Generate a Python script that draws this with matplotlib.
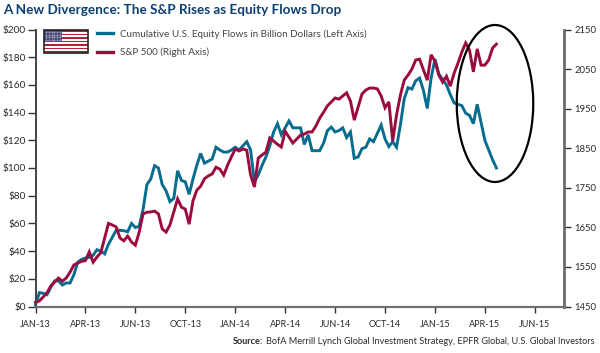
"""
Recreates the U.S. equity flows vs S&P 500 divergence chart.

    python3 plot.py
    -> out.png
"""

import matplotlib
matplotlib.use("Agg")
import matplotlib.pyplot as plt
from matplotlib.lines import Line2D
from matplotlib.patches import Ellipse, Rectangle

# Weekly readings.
FLOWS = [
    1, 10, 9.5, 8.5, 14, 18.5, 18.5, 15.5, 17, 17,
    23, 32, 34, 35, 35.5, 37, 41, 40, 38, 45,
    50, 55, 55, 54.7, 54, 60, 57, 58, 70, 88,
    92, 101.7, 100, 88, 83.5, 75.7, 78, 98, 91, 90,
    81, 92, 102, 110.5, 103.5, 105, 106.5, 115, 113, 111.5,
    111.5, 113, 115, 113, 116, 119, 113, 90, 95, 102,
    108, 116, 126, 132, 124, 129, 134, 129, 129, 129,
    117, 124, 112.5, 112.5, 112.5, 118, 127, 129.5, 126, 127,
    129, 122, 126, 107, 108, 114, 115, 121, 119, 125,
    131, 121, 115.5, 119, 115, 131, 150, 158, 157, 163,
    165, 156, 143, 165, 178.6, 168, 164, 160, 153, 147,
    146, 145, 139.6, 138, 132, 146, 133, 120, 113, 106,
    100,
]
SP500 = [
    1461, 1464, 1474, 1485, 1502, 1512, 1522, 1514, 1522, 1537,
    1555, 1560, 1564, 1566, 1588, 1562, 1575, 1586, 1623, 1660,
    1656, 1651, 1623, 1616, 1628, 1613, 1605, 1638, 1684, 1688,
    1689, 1691, 1684, 1646, 1638, 1656, 1689, 1722, 1701, 1696,
    1658, 1717, 1744, 1754, 1773, 1780, 1785, 1802, 1797, 1782,
    1807, 1828, 1848, 1843, 1848, 1845, 1782, 1752, 1825, 1833,
    1840, 1876, 1868, 1860, 1853, 1893, 1878, 1863, 1873, 1883,
    1886, 1891, 1891, 1906, 1926, 1941, 1957, 1967, 1977, 1974,
    1982, 1990, 1969, 1921, 1954, 1987, 1997, 2002, 2002, 2000,
    1982, 1952, 1967, 1868, 1934, 1984, 2022, 2035, 2050, 2073,
    2075, 2048, 2022, 2086, 2070, 2035, 2017, 2032, 2007, 2040,
    2065, 2093, 2116, 2098, 2043, 2101, 2060, 2060, 2073, 2103,
    2113,
]
X_LABELS = ["JAN-13", "APR-13", "JUN-13", "OCT-13", "JAN-14", "APR-14",
            "JUN-14", "OCT-14", "JAN-15", "APR-15", "JUN-15"]
LEFT_TICKS = [0, 20, 40, 60, 80, 100, 120, 140, 160, 180, 200]
RIGHT_TICKS = [1450, 1550, 1650, 1750, 1850, 1950, 2050, 2150]

BLUE = "#066d8e"
RED = "#9b0b40"
NAVY = "#0d3f70"
GREY = "#707070"
TEXT = "#2b2b2b"
W, H = 600, 353

plt.rcParams["font.family"] = ["Lato", "DejaVu Sans"]


def px_box(x0, y0, x1, y1):
    """Figure-fraction rectangle from pixel edges, y counted from the top."""
    return [x0 / W, 1 - y1 / H, (x1 - x0) / W, (y1 - y0) / H]


def draw_flag(fig):
    ax = fig.add_axes(px_box(44, 30, 88, 53))
    ax.set_xlim(0, 44)
    ax.set_ylim(13, 0)
    ax.axis("off")
    for i in range(13):
        ax.add_patch(Rectangle((0, i), 44, 1, color="#b22234" if i % 2 == 0 else "white", lw=0))
    ax.add_patch(Rectangle((0, 0), 18, 7, color="#3c3b6e", lw=0))
    for r in range(4):
        for c in range(6):
            ax.plot(2 + c * 2.8, 1.2 + r * 1.5, ".", ms=0.7, color="#d8d8e8")
    ax.add_patch(Rectangle((0, 0), 44, 13, fill=False, ec="#222222", lw=1.2, clip_on=False))


def main():
    weeks = range(len(FLOWS))
    fig = plt.figure(figsize=(W / 100, H / 100), dpi=100)
    ax = fig.add_axes(px_box(35.5, 29.5, 564, 306.5))
    ax2 = ax.twinx()

    ax.plot(weeks, FLOWS, color=BLUE, lw=2.1, solid_joinstyle="miter", clip_on=False)
    ax2.plot(weeks, SP500, color=RED, lw=2.1, solid_joinstyle="miter", clip_on=False)

    ax.set_xlim(0, 137.6)
    ax.set_ylim(0, 200)
    ax2.set_ylim(1450, 2150)

    ax.set_xticks(range(0, 131, 13))
    ax.set_xticklabels(X_LABELS)
    ax.set_yticks(LEFT_TICKS)
    ax.set_yticklabels([f"${v}" for v in LEFT_TICKS])
    ax2.set_yticks(RIGHT_TICKS)

    ax.tick_params(axis="x", length=4, width=1, color="#333333", labelsize=6.5, labelcolor=TEXT, pad=6)
    ax.tick_params(axis="y", length=6, width=1, color="#333333", labelsize=7.3, labelcolor=TEXT, pad=1)
    ax2.tick_params(axis="y", length=5, width=1, color="#333333", labelsize=6.8, labelcolor=TEXT, pad=2.5)

    for a in (ax, ax2):
        a.spines["top"].set_visible(False)
        a.spines["bottom"].set_color(GREY)
        a.spines["bottom"].set_linewidth(1.5)
        a.spines["left"].set_color("#444444")
        a.spines["left"].set_linewidth(1.2)
        a.spines["right"].set_color(GREY)
        a.spines["right"].set_linewidth(1.8)

    # The circled divergence, placed in figure space.
    fig.add_artist(Ellipse((495 / W, 1 - 103.5 / H), 76.5 / W, 157 / H, fill=False,
                           ec="black", lw=1.6, transform=fig.transFigure))

    handles = [Line2D([], [], color=BLUE, lw=2.4), Line2D([], [], color=RED, lw=2.4)]
    fig.legend(handles, ["Cumulative U.S. Equity Flows in Billion Dollars (Left Axis)",
                         "S&P 500 (Right Axis)"],
               loc="upper left", bbox_to_anchor=(97 / W, 1 - 29 / H), frameon=False,
               fontsize=7.1, labelcolor="#444444", handlelength=1.6, handletextpad=0.7,
               labelspacing=0.95, borderpad=0, borderaxespad=0)

    draw_flag(fig)

    fig.text(3 / W, 1 - 9.5 / H, "A New Divergence: The S&P Rises as Equity Flows Drop",
             fontsize=9.7, fontweight="bold", color=NAVY, va="center")

    fig.text(263 / W, 1 - 342 / H, "Source:", fontsize=6.6, fontweight="bold",
             color=TEXT, ha="right", va="center")
    fig.text(594 / W, 1 - 342 / H,
             "BofA Merrill Lynch Global Investment Strategy, EPFR Global, U.S. Global Investors",
             fontsize=6.6, color=TEXT, ha="right", va="center")

    fig.savefig("out.png", dpi=100)
    plt.close(fig)


if __name__ == "__main__":
    main()
